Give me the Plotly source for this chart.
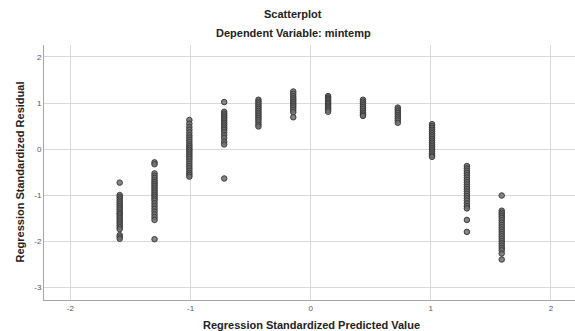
import plotly.graph_objects as go

# Standardized predicted value for each of the 12 groups
pred_values = [-1.59, -1.30, -1.01, -0.72, -0.435, -0.145, 0.145, 0.435, 0.725, 1.01, 1.30, 1.59]

# Standardized residuals observed in each group
resid_g1 = [-0.73, -1.00, -1.04, -1.08, -1.12, -1.16, -1.20, -1.24, -1.28, -1.32, -1.36, -1.40,
            -1.42, -1.46, -1.50, -1.54, -1.58, -1.62, -1.66, -1.70, -1.74, -1.87, -1.91, -1.95]
resid_g2 = [-0.29, -0.33, -0.53, -0.58, -0.63, -0.68, -0.72, -0.76, -0.80, -0.84, -0.88, -0.92,
            -0.96, -1.00, -1.04, -1.08, -1.12, -1.18, -1.24, -1.30, -1.36, -1.42, -1.48, -1.54, -1.96]
resid_g3 = [0.63, 0.55, 0.48, 0.42, 0.36, 0.30, 0.25, 0.20, 0.15, 0.10, 0.06, 0.02, -0.02, -0.06,
            -0.10, -0.14, -0.18, -0.22, -0.27, -0.32, -0.37, -0.42, -0.47, -0.52, -0.56, -0.60]
resid_g4 = [1.02, 0.81, 0.77, 0.73, 0.69, 0.65, 0.61, 0.57, 0.53, 0.49, 0.45, 0.41, 0.36, 0.30,
            0.24, 0.16, 0.10, -0.64]
resid_g5 = [1.07, 1.03, 0.99, 0.95, 0.91, 0.87, 0.83, 0.79, 0.75, 0.71, 0.67, 0.63, 0.58, 0.53, 0.49]
resid_g6 = [1.25, 1.20, 1.15, 1.10, 1.06, 1.02, 0.98, 0.94, 0.90, 0.85, 0.80, 0.69]
resid_g7 = [1.15, 1.12, 1.09, 1.06, 1.03, 1.00, 0.97, 0.94, 0.91, 0.88, 0.85, 0.81]
resid_g8 = [1.07, 1.03, 0.99, 0.95, 0.91, 0.87, 0.83, 0.79, 0.75, 0.72]
resid_g9 = [0.90, 0.86, 0.82, 0.78, 0.74, 0.70, 0.66, 0.62, 0.57]
resid_g10 = [0.54, 0.50, 0.46, 0.42, 0.38, 0.34, 0.30, 0.26, 0.22, 0.18, 0.14, 0.10, 0.06, 0.02,
             -0.02, -0.06, -0.10, -0.14, -0.17]
resid_g11 = [-0.37, -0.42, -0.47, -0.52, -0.57, -0.62, -0.67, -0.72, -0.77, -0.82, -0.87, -0.92,
             -0.97, -1.02, -1.07, -1.12, -1.18, -1.24, -1.29, -1.54, -1.80]
resid_g12 = [-1.01, -1.34, -1.38, -1.42, -1.46, -1.50, -1.55, -1.60, -1.65, -1.70, -1.75, -1.80,
             -1.85, -1.90, -1.95, -2.00, -2.05, -2.10, -2.15, -2.20, -2.27, -2.40]

groups = [resid_g1, resid_g2, resid_g3, resid_g4, resid_g5, resid_g6,
          resid_g7, resid_g8, resid_g9, resid_g10, resid_g11, resid_g12]

x_ticks = [-2, -1, 0, 1, 2]
y_ticks = [-3, -2, -1, 0, 1, 2]

xs, ys = [], []
for xv, res in zip(pred_values, groups):
    xs.extend([xv] * len(res))
    ys.extend(res)

FONT = "Liberation Sans, Arial, sans-serif"

fig = go.Figure(go.Scatter(
    x=xs, y=ys, mode="markers",
    marker=dict(size=5.5, color="rgba(110,110,110,0.85)",
                line=dict(color="#3c3c3c", width=1)),
    showlegend=False,
))

fig.update_layout(
    width=575, height=331,
    margin=dict(l=44, r=0, t=45, b=31),
    paper_bgcolor="white", plot_bgcolor="white",
    font=dict(family=FONT, color="#333"),
    xaxis=dict(range=[-2.22, 2.2], tickvals=x_ticks, ticktext=[str(v) for v in x_ticks],
               showgrid=True, gridcolor="#d9d9d9", gridwidth=1, zeroline=False,
               showline=True, linecolor="#a6a6a6", linewidth=1,
               tickfont=dict(size=8, color="#555"), ticks=""),
    yaxis=dict(range=[-3.28, 2.26], tickvals=y_ticks, ticktext=[str(v) for v in y_ticks],
               showgrid=True, gridcolor="#d9d9d9", gridwidth=1, zeroline=False,
               showline=True, linecolor="#a6a6a6", linewidth=1,
               tickfont=dict(size=8, color="#555"), ticks=""),
    annotations=[
        dict(text="<b>Scatterplot</b>", xref="paper", yref="paper",
             x=(293 - 44) / 531, y=1 + (45 - 14) / 255, xanchor="center", yanchor="middle",
             showarrow=False, font=dict(size=11, color="#222", family=FONT)),
        dict(text="<b>Dependent Variable: mintemp</b>", xref="paper", yref="paper",
             x=(293 - 44) / 531, y=1 + (45 - 33) / 255, xanchor="center", yanchor="middle",
             showarrow=False, font=dict(size=11, color="#222", family=FONT)),
        dict(text="<b>Regression Standardized Predicted Value</b>", xref="paper", yref="paper",
             x=(311 - 44) / 531, y=-(325 - 300) / 255, xanchor="center", yanchor="middle",
             showarrow=False, font=dict(size=11, color="#222", family=FONT)),
        dict(text="<b>Regression Standardized Residual</b>", xref="paper", yref="paper",
             x=-(44 - 19) / 531, y=0.5, xanchor="center", yanchor="middle", textangle=-90,
             showarrow=False, font=dict(size=11, color="#222", family=FONT)),
    ],
)

fig.write_html("out.html")
